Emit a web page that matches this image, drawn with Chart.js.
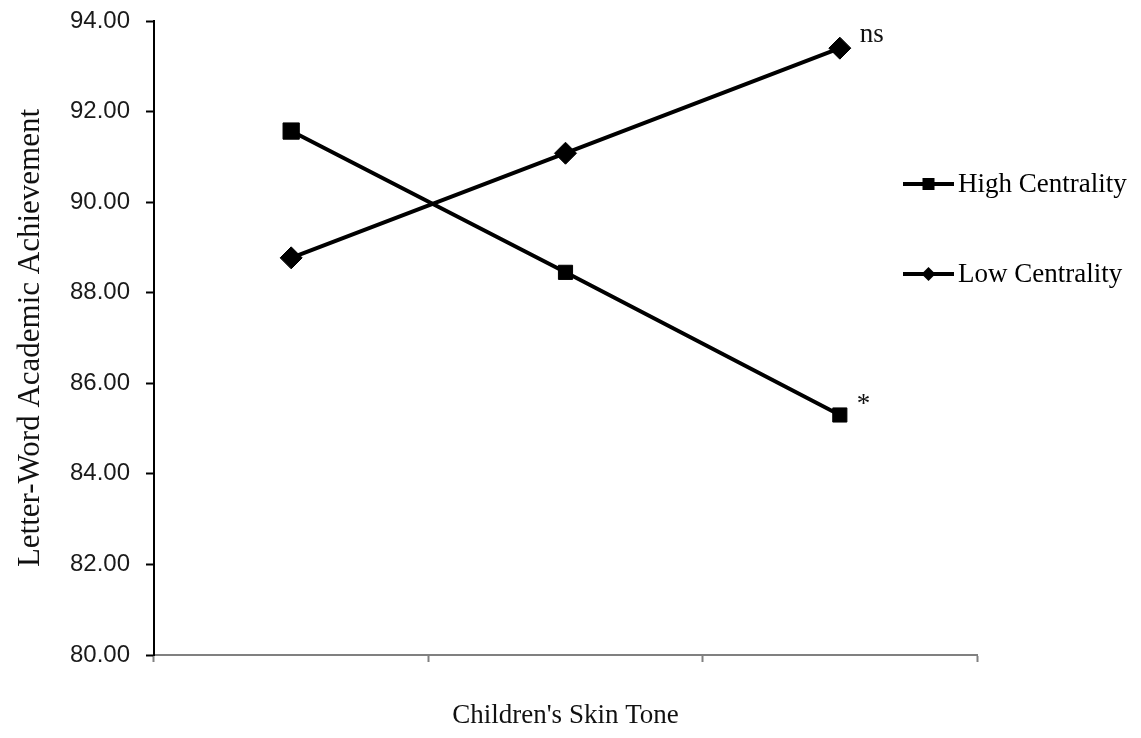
<!DOCTYPE html>
<html>
<head>
<meta charset="utf-8">
<title>Letter-Word Academic Achievement by Skin Tone</title>
<script src="https://cdn.jsdelivr.net/npm/chart.js@4/dist/chart.umd.min.js"></script>
<style>
  html, body { margin: 0; padding: 0; background: #fff; }
  canvas { display: block; }
</style>
</head>
<body>
<canvas id="myChart" width="1141" height="738"></canvas>
<script>
// categories are not printed on the original axis
var skinTones = ['Lighter', 'Medium', 'Darker'];
var highCentrality = [91.57, 88.45, 85.30];
var lowCentrality = [88.77, 91.08, 93.40];
var yTicks = [80, 82, 84, 86, 88, 90, 92, 94];
var notes = ['*', 'ns']; // significance marks next to the last point of each line

var serif = '"Liberation Serif", "Times New Roman", serif';
var sans = '"Liberation Sans", Arial, sans-serif';

// legend drawn by hand: a short line with the marker in the middle
var sideLegend = {
  id: 'sideLegend',
  afterDraw: function (chart) {
    var ctx = chart.ctx;
    var x0 = 903, x1 = 954;
    var rows = [
      { text: chart.data.datasets[0].label, y: 184, shape: 'square' },
      { text: chart.data.datasets[1].label, y: 274, shape: 'diamond' }
    ];
    ctx.save();
    rows.forEach(function (r) {
      ctx.strokeStyle = '#000';
      ctx.lineWidth = 4;
      ctx.beginPath();
      ctx.moveTo(x0, r.y);
      ctx.lineTo(x1, r.y);
      ctx.stroke();
      ctx.fillStyle = '#000';
      var cx = (x0 + x1) / 2;
      if (r.shape == 'square') {
        ctx.fillRect(cx - 6, r.y - 6, 12, 12);
      } else {
        ctx.beginPath();
        ctx.moveTo(cx, r.y - 7);
        ctx.lineTo(cx + 7, r.y);
        ctx.lineTo(cx, r.y + 7);
        ctx.lineTo(cx - 7, r.y);
        ctx.closePath();
        ctx.fill();
      }
      ctx.font = '27px ' + serif;
      ctx.textAlign = 'left';
      ctx.textBaseline = 'middle';
      ctx.fillText(r.text, 958, r.y + 1);
    });
    ctx.restore();
  }
};

// "*" and "ns" beside the last point of each series
var sigMarks = {
  id: 'sigMarks',
  afterDatasetsDraw: function (chart) {
    var ctx = chart.ctx;
    var xs = chart.scales.x, ys = chart.scales.y;
    var last = skinTones.length - 1;
    ctx.save();
    ctx.fillStyle = '#111';
    ctx.font = '27px ' + serif;
    ctx.textAlign = 'left';
    ctx.textBaseline = 'alphabetic';
    var px = xs.getPixelForValue(last);
    ctx.fillText(notes[0], px + 17, ys.getPixelForValue(highCentrality[last]) - 3);
    ctx.fillText(notes[1], px + 20, ys.getPixelForValue(lowCentrality[last]) - 6);
    ctx.restore();
  }
};

var ctx = document.getElementById('myChart').getContext('2d');

var chartData = {
  type: 'line',
  data: {
    labels: skinTones,
    datasets: [
      {
        label: 'High Centrality',
        data: highCentrality,
        borderColor: '#000',
        borderWidth: 4,
        backgroundColor: '#000',
        pointStyle: 'rect',
        pointRadius: [11.5, 10, 10],
        pointBorderWidth: 1,
        pointBackgroundColor: '#000',
        pointBorderColor: '#000',
        tension: 0
      },
      {
        label: 'Low Centrality',
        data: lowCentrality,
        borderColor: '#000',
        borderWidth: 4,
        backgroundColor: '#000',
        pointStyle: 'rectRot',
        pointRadius: 11,
        pointBorderWidth: 1,
        pointBackgroundColor: '#000',
        pointBorderColor: '#000',
        tension: 0
      }
    ]
  },
  options: {
    responsive: false,
    animation: false,
    events: [],
    layout: { padding: { left: 8, right: 164, top: 21, bottom: 0 } },
    plugins: {
      legend: { display: false },
      tooltip: { enabled: false }
    },
    scales: {
      x: {
        type: 'category',
        offset: true,
        grid: {
          offset: true,
          drawOnChartArea: false,
          tickColor: '#808080',
          tickWidth: 2,
          tickLength: 7
        },
        border: { color: '#808080', width: 2 },
        ticks: { display: false },
        title: {
          display: true,
          text: "Children's Skin Tone",
          color: '#111',
          font: { family: serif, size: 27 },
          padding: { top: 4, bottom: 6 }
        },
        afterFit: function (s) { s.height = 83; }
      },
      y: {
        min: yTicks[0],
        max: yTicks[yTicks.length - 1],
        afterBuildTicks: function (s) {
          s.ticks = yTicks.map(function (v) { return { value: v }; });
        },
        grid: {
          drawOnChartArea: false,
          tickColor: '#000',
          tickWidth: 2,
          tickLength: 8
        },
        border: { color: '#000', width: 2 },
        ticks: {
          color: '#1a1a1a',
          padding: 16,
          font: { family: sans, size: 24 },
          callback: function (v) { return Number(v).toFixed(2); }
        },
        title: {
          display: true,
          text: 'Letter-Word Academic Achievement',
          color: '#111',
          font: { family: serif, size: 31 },
          padding: { top: 4, bottom: 4 }
        },
        afterFit: function (s) {
          s.width = 146;
          // tick padding would otherwise push the plot top down
          s.paddingTop = 0;
          s.paddingBottom = 0;
        }
      }
    }
  },
  plugins: [sideLegend, sigMarks]
};

var myChart = new Chart(ctx, chartData);
</script>
</body>
</html>
